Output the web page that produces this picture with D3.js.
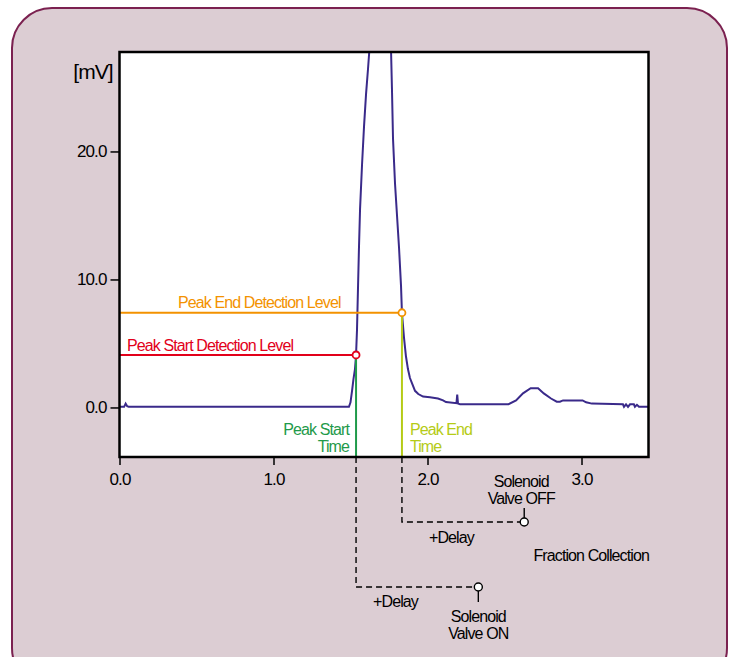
<!DOCTYPE html>
<html>
<head>
<meta charset="utf-8">
<script src="https://cdn.jsdelivr.net/npm/d3@7"></script>
<style>
  body { margin: 0; background: #fff; }
  text { font-family: "Liberation Sans", Arial, sans-serif; font-size: 16px; letter-spacing: -0.9px; }
</style>
</head>
<body>
<div class="canvas"></div>
<script>
// detector trace [time, mV]
const traceTime = [0.00, 0.03, 0.04, 0.05, 0.06, 1.49, 1.50, 1.51, 1.519, 1.529, 1.536, 1.542, 1.549, 1.555, 1.562, 1.575, 1.588, 1.601, 1.614, 1.623,
  1.66, 1.70, 1.74, 1.763, 1.769, 1.776, 1.789, 1.802, 1.815, 1.828, 1.834, 1.847, 1.860, 1.873, 1.886, 1.899, 1.919, 1.94, 1.971, 2.016, 2.068,
  2.101, 2.12, 2.188, 2.193, 2.198, 2.211, 2.526, 2.575, 2.620, 2.670, 2.718, 2.755, 2.802, 2.839, 2.860, 2.880, 3.007, 3.03, 3.067,
  3.269, 3.276, 3.289, 3.302, 3.315, 3.34, 3.347, 3.36, 3.373, 3.435];
const traceMv = [0.05, 0.05, 0.3, 0.1, 0.05, 0.05, 0.4, 1.3, 2.2, 3.0, 4.1, 6.0, 9.5, 12.5, 15.5, 19, 22, 24.5, 26.5, 28,
  45, 52, 45, 28, 25, 21, 17.5, 15, 12.5, 9.5, 7.4, 5.5, 4.0, 3.0, 2.3, 1.9, 1.3, 1.05, 0.85, 0.8, 0.7,
  0.55, 0.42, 0.33, 1.0, 0.3, 0.25, 0.25, 0.55, 1.1, 1.5, 1.5, 1.1, 0.7, 0.45, 0.45, 0.55, 0.55, 0.4, 0.3,
  0.25, 0.05, 0.25, 0.05, 0.25, 0.25, 0.05, 0.2, 0.05, 0.05];

const xTicks = [0, 1, 2, 3];
const yTicks = [0, 10, 20];

const startLevel = 4.1, endLevel = 7.4;
const startTime = 1.536, endTime = 1.834;
const valveOnTime = 2.33, valveOffTime = 2.628;

const svg = d3.select(".canvas").append("svg")
    .attr("width", 732).attr("height", 657);

// outer panel
svg.append("rect")
    .attr("x", 12).attr("y", 8).attr("width", 715).attr("height", 680)
    .attr("rx", 40).attr("ry", 40)
    .attr("fill", "#dccdd3").attr("stroke", "#7b2150").attr("stroke-width", 2);

const margin = {top: 52, left: 119.5};
const graphWidth = 529, graphHeight = 405;

const x = d3.scaleLinear().domain([0, 3.435]).range([0, graphWidth]);
const y = d3.scaleLinear().domain([-3.87, 27.77]).range([graphHeight, 0]);

const graph = svg.append("g").attr("transform", `translate(${margin.left},${margin.top})`);

graph.append("rect")
    .attr("width", graphWidth).attr("height", graphHeight)
    .attr("fill", "white");

svg.append("defs").append("clipPath").attr("id", "clip")
  .append("rect").attr("width", graphWidth).attr("height", graphHeight);

const data = traceTime.map((t, i) => [t, traceMv[i]]);
graph.append("path")
    .datum(data)
    .attr("clip-path", "url(#clip)")
    .attr("fill", "none")
    .attr("stroke", "#3a2a8a")
    .attr("stroke-width", 2)
    .attr("d", d3.line().x(d => x(d[0])).y(d => y(d[1])));

// detection levels
const red = "#e2001a", orange = "#f39200", green = "#1f9a4a", lime = "#b5cb17";
graph.append("line").attr("x1", 0).attr("x2", x(startTime))
    .attr("y1", y(startLevel)).attr("y2", y(startLevel))
    .attr("stroke", red).attr("stroke-width", 2);
graph.append("line").attr("x1", 0).attr("x2", x(endTime))
    .attr("y1", y(endLevel)).attr("y2", y(endLevel))
    .attr("stroke", orange).attr("stroke-width", 2);
graph.append("line").attr("x1", x(startTime)).attr("x2", x(startTime))
    .attr("y1", y(startLevel)).attr("y2", graphHeight)
    .attr("stroke", green).attr("stroke-width", 2);
graph.append("line").attr("x1", x(endTime)).attr("x2", x(endTime))
    .attr("y1", y(endLevel)).attr("y2", graphHeight)
    .attr("stroke", lime).attr("stroke-width", 2);

graph.append("text").attr("x", 7.5).attr("y", y(startLevel) - 4)
    .attr("fill", red).text("Peak Start Detection Level");
graph.append("text").attr("x", x(0.38)).attr("y", y(endLevel) - 5)
    .attr("fill", orange).text("Peak End Detection Level");

graph.append("text").attr("x", x(startTime) - 7).attr("y", 383).attr("text-anchor", "end")
    .attr("fill", green).text("Peak Start");
graph.append("text").attr("x", x(startTime) - 7).attr("y", 400).attr("text-anchor", "end")
    .attr("fill", green).text("Time");
graph.append("text").attr("x", x(endTime) + 8).attr("y", 383)
    .attr("fill", lime).text("Peak End");
graph.append("text").attr("x", x(endTime) + 8).attr("y", 400)
    .attr("fill", lime).text("Time");

graph.append("circle").attr("cx", x(startTime)).attr("cy", y(startLevel)).attr("r", 3.5)
    .attr("fill", "white").attr("stroke", red).attr("stroke-width", 1.8);
graph.append("circle").attr("cx", x(endTime)).attr("cy", y(endLevel)).attr("r", 3.5)
    .attr("fill", "white").attr("stroke", orange).attr("stroke-width", 1.8);

// frame
graph.append("rect")
    .attr("width", graphWidth).attr("height", graphHeight)
    .attr("fill", "none").attr("stroke", "black").attr("stroke-width", 2.5);

// axes
const xAxisGroup = graph.append("g").attr("transform", `translate(0,${graphHeight})`)
    .call(d3.axisBottom(x).tickValues(xTicks).tickFormat(d3.format(".1f")).tickSize(8).tickPadding(8));
const yAxisGroup = graph.append("g")
    .call(d3.axisLeft(y).tickValues(yTicks).tickFormat(d3.format(".1f")).tickSize(9).tickPadding(4));
[xAxisGroup, yAxisGroup].forEach(g => {
  g.select(".domain").remove();
  g.selectAll("line").attr("stroke", "black").attr("stroke-width", 1.5);
  g.selectAll("text").attr("fill", "black").style("font-size", "17px").style("letter-spacing", "-0.9px")
   .style("font-family", "\"Liberation Sans\", Arial, sans-serif");
});

graph.append("text").attr("x", -7).attr("y", 27).attr("text-anchor", "end")
    .style("font-size", "21px").style("letter-spacing", "-1px").text("[mV]");

// fraction collection timing
const dash = "6,4";
const onY = 535, offY = 470;
graph.append("path")
    .attr("d", `M${x(startTime)},${graphHeight}V${onY}H${x(valveOnTime)}`)
    .attr("fill", "none").attr("stroke", "black").attr("stroke-width", 1.4).attr("stroke-dasharray", dash);
graph.append("path")
    .attr("d", `M${x(endTime)},${graphHeight}V${offY}H${x(valveOffTime)}`)
    .attr("fill", "none").attr("stroke", "black").attr("stroke-width", 1.4).attr("stroke-dasharray", dash);
graph.append("line").attr("x1", x(valveOnTime)).attr("x2", x(valveOnTime))
    .attr("y1", onY).attr("y2", onY + 15).attr("stroke", "black").attr("stroke-width", 1.4);
graph.append("line").attr("x1", x(valveOffTime)).attr("x2", x(valveOffTime))
    .attr("y1", offY).attr("y2", offY - 14).attr("stroke", "black").attr("stroke-width", 1.4);
graph.append("circle").attr("cx", x(valveOnTime)).attr("cy", onY).attr("r", 4)
    .attr("fill", "white").attr("stroke", "black").attr("stroke-width", 1.4);
graph.append("circle").attr("cx", x(valveOffTime)).attr("cy", offY).attr("r", 4)
    .attr("fill", "white").attr("stroke", "black").attr("stroke-width", 1.4);

graph.append("text").attr("x", x(startTime) + 17).attr("y", onY + 20).text("+Delay");
graph.append("text").attr("x", x(endTime) + 27).attr("y", offY + 21).text("+Delay");
graph.append("text").attr("x", x(valveOnTime)).attr("y", onY + 35).attr("text-anchor", "middle").text("Solenoid");
graph.append("text").attr("x", x(valveOnTime)).attr("y", onY + 52).attr("text-anchor", "middle").text("Valve ON");
graph.append("text").attr("x", x(valveOffTime) - 3).attr("y", offY - 35).attr("text-anchor", "middle").text("Solenoid");
graph.append("text").attr("x", x(valveOffTime) - 3).attr("y", offY - 18).attr("text-anchor", "middle").text("Valve OFF");
graph.append("text").attr("x", x(3.0) - 48).attr("y", 509).text("Fraction Collection");
</script>
</body>
</html>
